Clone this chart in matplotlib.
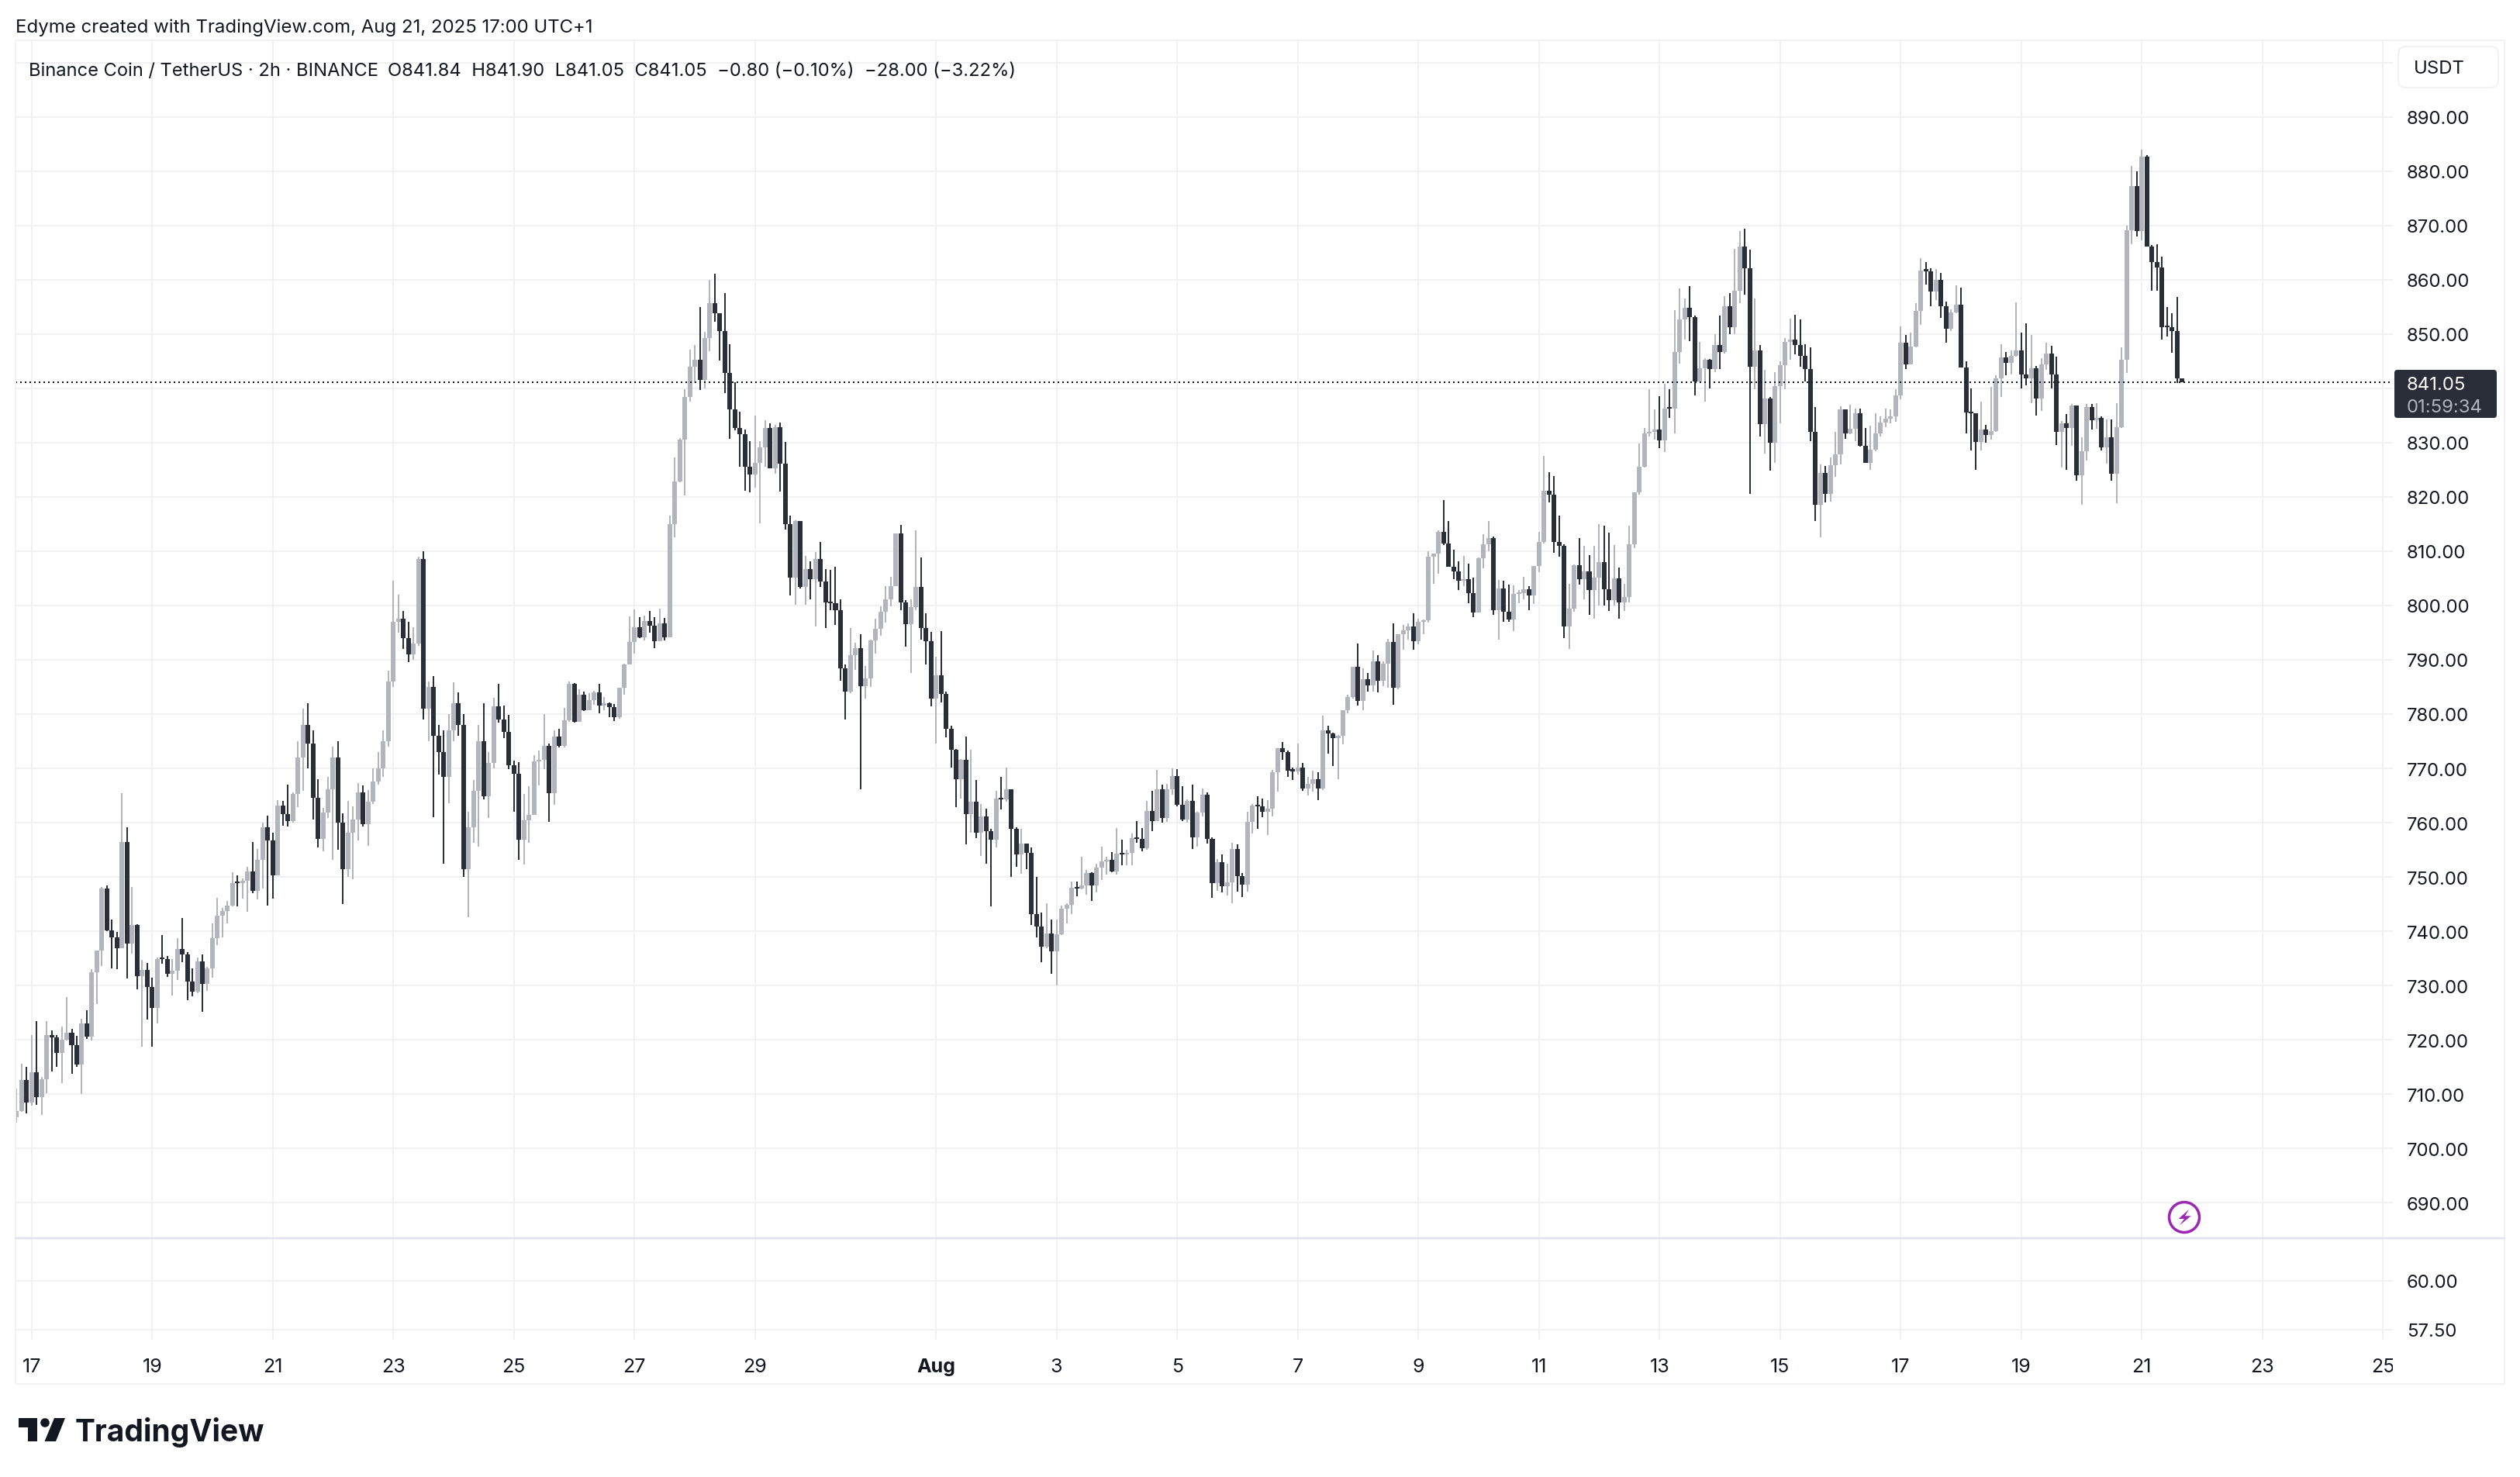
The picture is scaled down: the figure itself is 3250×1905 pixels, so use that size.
import numpy as np
import matplotlib
matplotlib.use("Agg")
import matplotlib.pyplot as plt
from matplotlib.patches import Rectangle, FancyBboxPatch, Polygon, Circle

plt.rcParams['font.family'] = ['Inter', 'DejaVu Sans']

#2h candles, bar 0 is the 17 Jul gridline
first_bar = -3

opens = [705.8,706.9,712.6,708.5,714.0,709.4,712.7,720.9,720.5,717.6,
         720.0,721.3,719.0,715.4,723.0,720.6,732.4,736.4,747.9,740.1,
         738.8,736.9,756.4,737.7,741.1,731.7,732.9,729.7,725.9,734.9,
         734.8,732.1,732.7,736.7,735.7,730.7,728.9,734.4,730.3,733.1,
         738.7,742.9,743.7,744.7,748.9,748.8,749.3,751.0,747.4,753.1,
         759.1,756.7,750.3,763.1,761.6,760.3,765.3,772,778,774.5,
         764.6,757,761.8,766.2,772,760,751.4,758.1,760.6,765.6,
         759.7,763.9,767.6,770,775,786,797,797.5,794,791,
         793,808.5,781,785,776,773,768.5,777,782,778,
         751.4,759.1,765.9,775,764.9,771,781.4,779.0,776.7,770.6,
         769.0,756.8,760.5,761.5,771.3,771.6,774.2,765.5,775.8,774.2,
         778.9,785.5,778.5,783.6,780.7,782.6,784.0,781.6,782.0,781.3,
         779.4,784.9,789.1,793.3,796.0,794.1,797.2,796.3,793.4,796.7,
         794.1,815.0,822.9,830.5,838.4,844.0,845.3,841.6,849.3,855.7,
         853.9,850.5,842.8,836.1,832.7,831.6,825.6,824.1,826.3,829.1,
         832.7,825.2,832.8,826.1,815.0,805.1,815.5,803.4,806.7,804.9,
         808.5,804.4,800.6,800.4,799.1,788.4,784.1,790.8,792.1,785.1,
         786.6,793.6,795.7,798.8,801.2,803.6,813.3,800.5,796.5,799.7,
         803.4,795.9,793.4,782.9,787.2,783.7,777.3,773.4,768.0,771.6,
         761.6,763.9,758.2,761.2,758.4,756.9,764.5,764.3,766.1,758.8,
         754.2,756.2,754.5,743.1,740.9,737.1,739.6,736.3,739.4,744.1,
         744.9,748.0,747.9,748.4,750.7,748.4,751.7,752.9,753.1,751.0,
         754.3,754.2,754.4,757.1,757.0,755.3,762.1,760.3,766.1,760.9,
         766.1,768.6,763.3,760.6,764.0,757.3,761.9,765.1,757.0,748.9,
         752.7,748.3,749.0,755.1,750.1,748.6,760.1,763.1,763.0,762.0,
         762.6,769.3,773.7,773.0,769.6,769.5,770.1,766.3,767.1,768.0,
         766.3,777.0,776.4,775.6,776.0,780.7,783.1,788.7,782.4,786.4,
         785.3,789.7,786.1,789.3,793.3,784.9,794.7,795.4,796.1,793.4,
         797.0,797.3,809.0,809.6,813.6,811.4,807.1,806.3,804.6,804.9,
         802.3,798.7,808.7,811.3,812.4,799.1,803.1,798.9,797.4,802.1,
         802.3,803.0,801.9,807.3,811.7,821.1,820.4,811.7,811.0,796.1,
         799.4,807.4,804.9,806.3,802.9,805.1,808,803,801,805,
         800.5,801.5,811.3,820.8,825.6,831.7,832.0,832.4,830.4,836.3,
         836.2,846.7,852.7,854.9,853.1,841.3,843.7,845.3,843.6,848.0,
         846.7,855.1,851.3,858.0,866.1,862.1,844.0,847.0,833.4,838.1,
         830.0,840.4,844.3,848.6,849.0,848.0,846.0,843.6,832.0,818.6,
         824.4,820.6,825.9,827.9,836.1,831.7,832.6,835.4,829.4,826.3,
         828.7,831.7,833.7,834.4,834.9,838.7,848.4,844.4,847.7,854.3,
         861.7,861.6,857.9,860.0,855.1,851.0,854.0,855.4,843.9,835.6,
         835.4,830.1,832.4,831.4,832.1,841.9,845.7,844.7,846.0,847.0,
         842.6,841.9,843.7,838.1,844.4,846.4,842.6,832.0,833.6,832.7,
         836.9,824.0,828.4,836.6,834.1,834.6,829.1,831.0,824.3,832.9,
         845.3,869.1,877.3,868.9,882.7,866.1,863.3,862.3,851.3,851.2,
         850.6,841.84]

highs = [711.0,715.6,715.0,720.9,723.4,713.1,723.4,721.8,720.9,722.4,
         727.8,722.0,720.7,723.9,725.4,733.0,736.5,748.2,748.4,742.1,
         739.8,765.5,759.2,748.2,741.3,734.7,734.1,731.4,735.1,739.3,
         735.4,734.9,738.7,742.4,736.1,733.1,735.1,735.7,733.4,741.4,
         746.1,744.3,745.6,750.9,750.3,749.7,751.9,756.4,755.1,760.0,
         761.3,758.1,764.1,764.0,767.0,765.6,775,781,782,777,
         768,762.7,768.4,774,775,761.7,764,763,767.3,766.9,
         766,770,773,777,788,804.5,802,799,797,796,
         809,810,786,787,778,777,780,785.8,784,780,
         762,767.8,778,782,773,783,785.6,781.6,779.9,771.5,
         771.2,765.3,766.7,772.4,773.3,780.0,774.5,777.0,777.3,781.2,
         786.0,785.7,784.6,784.1,783.9,784.3,785.6,783.2,782.2,781.8,
         784.9,789.3,798.0,799.3,797.9,798.1,799.0,797.9,799.4,797.7,
         816.5,827.3,830.9,839.8,847.1,848.0,855.0,850.4,860.0,861.1,
         853.9,857.6,848.1,841.1,835.7,832.4,830.3,835.0,830.2,834.1,
         833.5,833.2,833.7,830.1,816.6,815.7,815.4,809.2,808.2,809.8,
         811.7,806.7,806.5,807.2,801.1,789.2,795.8,793.2,794.7,788.8,
         793.7,797.6,799.9,803.6,805.3,813.3,814.8,801.0,801.2,813.9,
         808.8,798.6,795.1,790.5,795.3,784.1,777.9,773.5,771.7,775.9,
         773.4,767.8,763.4,762.6,758.9,765.8,768.5,770.1,766.1,759.1,
         758.8,756.2,755.5,750.0,743.5,745.2,742.2,742.1,744.7,745.1,
         749.1,749.1,753.7,751.3,750.9,752.4,755.6,753.7,754.6,759.0,
         756.9,755.0,758.0,760.3,759.0,764.0,765.9,769.7,767.0,767.1,
         770.0,769.9,766.7,764.3,767.0,762.0,766.3,765.6,757.3,753.3,
         754.1,752.4,756.3,756.0,750.7,762.0,763.4,764.9,764.4,764.1,
         769.7,773.7,774.9,773.3,770.1,774.6,771.0,768.4,769.6,769.3,
         779.7,777.9,776.6,776.1,780.7,783.6,788.7,793.0,788.4,787.6,
         791.7,790.9,789.7,793.9,796.7,794.7,796.4,796.7,798.6,797.6,
         797.4,810.0,809.6,813.9,819.4,815.6,810.3,808.1,809.1,807.7,
         805.1,808.9,813.1,815.6,812.7,804.7,804.6,803.9,803.7,802.9,
         805.3,803.6,807.3,813.6,827.6,824.6,823.9,816.6,811.3,804.0,
         807.6,812.4,811.0,809.3,811.0,815.0,814.7,813.4,811.2,807,
         804,814.7,820.9,829.9,832.7,839.9,836.1,838.6,840.9,839.9,
         854.4,858.4,856.6,858.9,853.4,848.6,845.6,845.4,850.0,853.4,
         857.0,857.6,865.7,868.9,869.4,865.6,856.6,848.0,843.4,838.4,
         843.0,845.0,849.3,852.9,853.6,852.7,848.1,847.6,836.6,826.0,
         825.7,827.3,832.0,836.7,836.1,837.0,836.3,836.3,832.7,833.1,
         835.4,834.9,836.3,836.1,839.9,851.4,849.9,850.3,855.7,864.0,
         863.3,862.1,861.9,861.3,856.0,854.6,859.0,858.6,845.0,840.0,
         835.4,837.6,833.3,840.3,842.4,848.1,846.7,847.0,855.9,850.3,
         852.0,849.9,844.1,845.6,848.4,847.9,845.9,834.0,835.3,837.1,
         836.9,831.0,837.1,837.1,837.3,834.9,834.3,834.3,837.3,847.6,
         870.0,881.0,879.9,883.9,883.0,866.4,866.6,864.3,855.0,853.9,
         856.9,841.90]

lows = [704.8,706.8,706.5,707.9,708.0,706.2,710.2,714.1,715.0,712.0,
        719.9,713.8,715.0,710.0,720.2,719.9,726.6,733.6,740.0,733.1,
        733.0,736.9,731.3,735.8,729.3,718.8,723.8,718.8,723.0,734.0,
        731.6,728.2,731.0,734.3,727.3,728.0,728.6,725.2,729.0,731.4,
        737.4,738.9,741.4,744.6,744.6,746.0,743.6,747.0,745.9,747.9,
        744.7,746.0,750.3,759.4,759.3,760.0,762.9,765.9,770,760.6,
        755.4,754.7,760.9,753.1,755,745,750,749.6,756.7,759.3,
        755.7,763.5,767,768.5,774,785,795,792,789.5,790,
        792.5,779,775,761,768.8,752.4,763.6,775,776,750,
        742.6,756.3,755.6,764.3,760.8,770,778.4,775.5,769.8,762.0,
        753.2,752.3,756.3,761.4,766.9,769.9,760.2,763.3,773.9,773.8,
        778.5,778.4,778.5,780.6,780.7,781.7,780.1,780.7,779.4,778.7,
        779.1,783.6,789.1,791.1,794.0,793.5,795.0,792.1,793.4,793.5,
        794.1,812.6,822.7,820.2,837.5,841.0,839.7,840.0,846.8,852.3,
        845.1,839.1,830.7,832.2,825.6,821.1,820.8,821.7,815.1,825.6,
        825.2,824.3,821.0,814.0,801.8,800.2,803.2,800.1,801.2,796.1,
        803.4,795.8,799.1,796.4,786.2,779.0,783.8,788.1,766.1,782.9,
        785.0,791.1,794.4,796.8,799.9,803.5,799.1,792.4,787.5,799.1,
        793.7,789.2,781.4,774.6,782.1,775.7,770.1,762.8,764.5,756.0,
        758.1,757.2,753.9,752.4,744.6,755.4,762.4,763.9,750.0,751.8,
        750.6,751.5,741.2,738.9,734.3,736.9,732.2,730.0,739.3,741.4,
        743.1,746.4,747.7,746.7,745.6,747.1,749.4,750.4,750.9,750.4,
        752.1,752.1,752.1,756.3,754.7,755.0,758.4,760.3,760.0,760.1,
        765.1,763.0,760.3,760.0,755.1,755.6,761.1,756.1,746.1,747.4,
        747.1,746.6,745.1,747.3,746.3,747.3,758.0,758.9,761.0,757.7,
        761.1,765.7,771.6,768.4,767.9,768.9,765.9,765.0,765.7,764.1,
        766.0,772.7,770.4,768.0,774.4,780.1,782.9,781.6,780.7,784.1,
        784.1,784.0,785.1,784.9,781.7,784.6,791.9,793.7,791.9,792.9,
        794.7,796.9,804.0,805.9,811.1,807.1,804.9,802.9,803.6,800.4,
        797.9,798.7,806.9,810.0,798.3,793.7,797.0,797.0,795.3,800.4,
        801.1,799.1,800.3,806.1,811.4,819.0,809.7,809.0,794.0,792.0,
        798.9,803.9,801.1,798.3,797.6,800,800,799,800,797.5,
        799,800.5,810.6,820.4,825.4,831.1,830.6,829.0,828.3,834.6,
        831.7,844.6,849.0,848.7,838.7,841.3,837.6,840.0,843.0,843.6,
        846.4,850.0,850.0,855.7,857.3,820.6,839.9,831.1,828.0,824.9,
        826.3,833.6,839.9,845.3,846.3,844.0,841.3,830.3,815.6,812.6,
        819.0,819.1,823.7,826.0,830.7,831.6,830.3,829.3,826.3,825.0,
        828.4,831.1,832.9,833.6,833.9,838.0,843.6,844.4,847.6,851.7,
        859.1,855.1,856.3,853.0,848.4,850.6,853.9,843.9,831.7,828.6,
        825.0,828.6,830.0,830.6,832.0,838.4,842.4,842.6,845.9,840.0,
        840.6,837.3,835.0,835.9,843.4,840.0,829.6,825.4,825.0,829.4,
        823.0,818.6,826.7,832.4,832.6,828.6,826.1,823.0,818.9,832.7,
        842.9,866.6,868.0,867.3,866.1,858.0,858.0,849.0,849.6,846.6,
        841.0,841.05]

closes = opens[1:] + [841.05]

last_price = 841.05
countdown = "01:59:34"

price_ticks = [900,890,880,870,860,850,840,830,820,810,800,790,780,770,760,
               750,740,730,720,710,700,690]
#the 900 and 840 labels sit behind the USDT button and the price tag
hidden_ticks = [900,840]
lower_ticks = [60.0,57.5]
time_bars = [0,24,48,72,96,120,144,180,204,228,252,276,300,324,348,372,396,420,444,468]
time_labels = ['17','19','21','23','25','27','29','Aug','3','5','7','9','11','13','15','17','19','21','23','25']

legend_text = "Binance Coin / TetherUS · 2h · BINANCE"
ohlc_text = "O841.84  H841.90  L841.05  C841.05  \u22120.80 (\u22120.10%)  \u221228.00 (\u22123.22%)"
header_text = "Edyme created with TradingView.com, Aug 21, 2025 17:00 UTC+1"

UP = '#b2b5be'
DOWN = '#2a2e39'
GRID = '#f1f1f3'
TEXT = '#131722'
W, H = 3250, 1906
DPI = 100
PX = 72.0 / DPI   # one pixel in points

fig = plt.figure(figsize=(W / DPI, H / DPI), dpi=DPI, facecolor='white')

#pixel box -> axes rect
def pane(x0, y0, x1, y1):
    return fig.add_axes([x0 / W, 1 - y1 / H, (x1 - x0) / W, (y1 - y0) / H])

ax = pane(20, 53, 3086, 1597)
ax2 = pane(20, 1597, 3086, 1729)
bar_xlim = (-3.19, 469.95)

for a in (ax, ax2):
    a.set_xlim(*bar_xlim)
    a.set_facecolor('none')
    for s in a.spines.values():
        s.set_visible(False)
    a.set_xticks(time_bars)
    a.grid(True, color=GRID, linewidth=2 * PX, zorder=0)
    a.set_axisbelow(True)
    a.yaxis.tick_right()
    a.tick_params(axis='both', length=0, labelsize=24 * PX, labelcolor=TEXT)
    a.tick_params(axis='y', pad=18 * PX)

ax.set_ylim(683.6, 904.1)
ax.set_yticks(price_ticks)
ax.set_yticklabels(['' if t in hidden_ticks else '%.2f' % t for t in price_ticks])
ax.tick_params(axis='x', labelbottom=False)

ax2.set_ylim(56.98, 62.2)
ax2.set_yticks(lower_ticks)
ax2.set_yticklabels(['%.2f' % t for t in lower_ticks])
ax2.set_xticklabels(time_labels)
ax2.tick_params(axis='x', pad=23 * PX, labelsize=25 * PX)
for lab, name in zip(ax2.get_xticklabels(), time_labels):
    if name == 'Aug':
        lab.set_fontweight('bold')

#candles
x = np.arange(first_bar, first_bar + len(closes))
o = np.array(opens)
c = np.array(closes)
hi = np.array(highs)
lo = np.array(lows)
up = c >= o
colors = np.where(up, UP, DOWN)
bottoms = np.minimum(o, c)
heights = np.maximum(np.abs(c - o), 0.3)
ax.vlines(x, lo, hi, colors=colors, linewidth=2 * PX, zorder=2)
ax.bar(x, heights, bottom=bottoms, width=0.93, color=colors, linewidth=0, zorder=3)

ax.axhline(last_price, color=TEXT, linewidth=2 * PX, linestyle=(0, (1, 2)), zorder=4)

#everything outside the panes, in pixels
ov = fig.add_axes([0, 0, 1, 1])
ov.set_xlim(0, W)
ov.set_ylim(H, 0)
ov.axis('off')
ov.patch.set_alpha(0)

ov.add_patch(Rectangle((20, 53), 3210, 1733, fill=False, edgecolor='#f2f2f3', linewidth=2 * PX))
ov.plot([20, 3230], [1597.5, 1597.5], color='#e0e3eb', linewidth=2.5 * PX)

#the last date label is cut at the pane edge
ov.add_patch(Rectangle((3086, 1740), 14, 40, facecolor='white', edgecolor='none'))

ov.text(20, 36, header_text, fontsize=24 * PX, color=TEXT, va='center', ha='left')
ov.text(37, 92, legend_text, fontsize=23.7 * PX, color=TEXT, va='center', ha='left')
ov.text(500, 92, ohlc_text, fontsize=23.8 * PX, color=TEXT, va='center', ha='left')

#USDT button
ov.add_patch(FancyBboxPatch((3099, 67), 117, 41, boxstyle='round,pad=6,rounding_size=10',
                            facecolor='white', edgecolor='#f0f1f4', linewidth=2 * PX))
ov.text(3113, 89, 'USDT', fontsize=24 * PX, color=TEXT, va='center', ha='left')

#price tag
ov.add_patch(FancyBboxPatch((3088, 478), 132, 62, boxstyle='round,pad=0,rounding_size=4',
                            facecolor=DOWN, edgecolor='none'))
ov.text(3104, 497, '%.2f' % last_price, fontsize=24 * PX, color='white', va='center', ha='left')
ov.text(3104, 526, countdown, fontsize=24 * PX, color='#b2b5be', va='center', ha='left')

#lightning badge
cx, cy = 2817, 1571
ov.add_patch(Circle((cx, cy), 19.5, fill=False, edgecolor='#9c27b0', linewidth=3.5 * PX))
ov.add_patch(Polygon([(cx + 6, cy - 10), (cx - 7.4, cy + 2), (cx, cy + 2), (cx - 6, cy + 10.3),
                      (cx + 8.8, cy - 1.7), (cx + 1, cy - 1.7)], closed=True,
                     facecolor='#9c27b0', edgecolor='none'))

#logo
ov.add_patch(Polygon([(24, 1830), (48, 1830), (48, 1860), (36, 1860), (36, 1842), (24, 1842)],
                     closed=True, facecolor=TEXT, edgecolor='none'))
ov.add_patch(Circle((58, 1836), 5.8, facecolor=TEXT, edgecolor='none'))
ov.add_patch(Polygon([(70, 1830), (84, 1830), (72, 1860), (57.5, 1860)], closed=True,
                     facecolor=TEXT, edgecolor='none'))
ov.text(97, 1848, 'TradingView', fontsize=39 * PX, fontweight='bold', color=TEXT, va='center', ha='left')

fig.savefig('out.png', dpi=DPI, facecolor='white')
